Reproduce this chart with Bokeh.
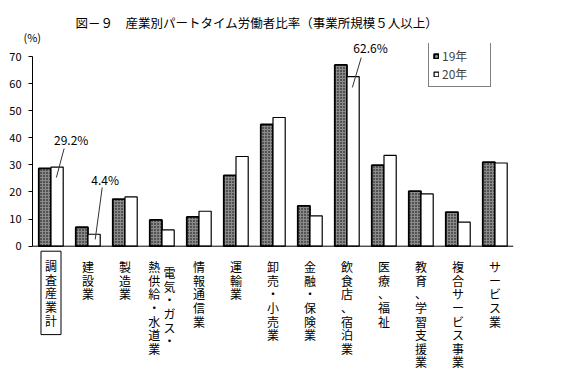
import numpy as np
from bokeh.plotting import figure
from bokeh.models import Range1d, Label, Legend, LegendItem, FixedTicker, Span, Title
from bokeh.embed import file_html
from bokeh.resources import INLINE

# ---------------- data ----------------
categories = ["調査産業計", "建設業", "製造業", "電気・ガス・熱供給・水道業", "情報通信業",
              "運輸業", "卸売・小売業", "金融・保険業", "飲食店、宿泊業", "医療、福祉",
              "教育、学習支援業", "複合サービス事業", "サービス業"]
values_19 = [28.7, 7.0, 17.4, 9.7, 10.8, 26.1, 44.9, 14.9, 66.9, 29.9, 20.3, 12.6, 31.0]
values_20 = [29.2, 4.4, 18.2, 6.0, 12.9, 33.1, 47.5, 11.2, 62.6, 33.5, 19.3, 8.9, 30.7]
series_labels = ["19年", "20年"]
y_ticks = [0, 10, 20, 30, 40, 50, 60, 70]
title_text = "図－９　産業別パートタイム労働者比率（事業所規模５人以上）"
unit_text = "(%)"
callout_idx = [0, 1, 8]          # categories whose 20年 value is annotated

FONT = "Noto Sans CJK JP"

W, H = 564, 382
LEFT, RIGHT, TOP = 32, 51, 43
Y_MIN, Y_MAX = -50.3, 74.8
px_per_unit = (H - TOP) / (Y_MAX - Y_MIN)

# ---------------- figure ----------------
p = figure(width=W, height=H, output_backend="svg", toolbar_location=None,
           x_range=Range1d(0, len(categories)), y_range=Range1d(Y_MIN, Y_MAX),
           x_axis_location=None,
           min_border_left=LEFT, min_border_right=RIGHT, min_border_top=TOP, min_border_bottom=0)
p.outline_line_color = None
p.grid.visible = False
p.background_fill_color = "white"
p.border_fill_color = "white"

# y axis (only 0-70)
p.yaxis.bounds = (0, 70)
p.yaxis.ticker = FixedTicker(ticks=y_ticks)
p.yaxis.minor_tick_line_color = None
p.yaxis.major_tick_in = 0
p.yaxis.major_tick_out = 4
p.yaxis.major_tick_line_color = "black"
p.yaxis.axis_line_color = "black"
p.yaxis.major_label_standoff = 7
p.yaxis.major_label_text_font = FONT
p.yaxis.major_label_text_font_size = "11px"
p.yaxis.major_label_text_color = "black"

# category baseline (x axis line at 0)
p.add_layout(Span(location=0, dimension="width", line_color="black", line_width=1))

# titles (closest to the frame added first)
p.add_layout(Title(text=unit_text, align="left", offset=-9, standoff=-2,
                   text_font=FONT, text_font_size="11px", text_font_style="normal",
                   text_color="black"), "above")
p.add_layout(Title(text=title_text, align="left", offset=43, standoff=-8,
                   text_font=FONT, text_font_size="12.5px", text_font_style="normal",
                   text_color="black"), "above")

# bars
xc = np.arange(len(categories)) + 0.5
bw = 0.33
r19 = p.vbar(x=xc - bw / 2, top=values_19, width=bw, bottom=0,
             fill_color="#8a8a8a", hatch_pattern="dot", hatch_scale=3, hatch_color="black",
             hatch_weight=1, line_color="black", line_width=1.8)
r20 = p.vbar(x=xc + bw / 2, top=values_20, width=bw, bottom=0,
             fill_color="white", line_color="black", line_width=1.2)

legend = Legend(items=[LegendItem(label=series_labels[0], renderers=[r19]),
                       LegendItem(label=series_labels[1], renderers=[r20])],
                location=(396, 295), orientation="vertical",
                border_line_color="black", border_line_width=1,
                background_fill_color="white", background_fill_alpha=1,
                padding=4, spacing=1, margin=0,
                glyph_width=6, glyph_height=6, label_height=12, label_width=44,
                label_standoff=3, label_text_font=FONT, label_text_font_size="12px")
p.add_layout(legend, "center")

# callouts (leader lines + labels) for selected 20年 values
# offsets: (line top dx, dy), (line bottom dx, dy), (label dx, dy)
callout_offsets = [((0.19, 6.85), (-0.02, -3.85), (0.38, 10.2)),
                   ((0.22, 17.3), (0.03, -1.9), (0.30, 20.2)),
                   ((0.22, 7.0), (-0.02, -4.0), (0.47, 10.7))]
x0s, y0s, x1s, y1s = [], [], [], []
for i, (top_o, bot_o, lab_o) in zip(callout_idx, callout_offsets):
    bx = xc[i] + bw / 2
    v = values_20[i]
    x0s.append(bx + top_o[0]); y0s.append(v + top_o[1])
    x1s.append(bx + bot_o[0]); y1s.append(v + bot_o[1])
    p.add_layout(Label(x=bx + lab_o[0], y=v + lab_o[1], x_units="data", y_units="data",
                       text=f"{v}%", text_font=FONT, text_font_size="12px",
                       text_align="center", text_baseline="middle", text_color="black"))
p.segment(x0=x0s, y0=y0s, x1=x1s, y1=y1s, line_color="#333333", line_width=1)

# vertical category labels below the baseline
def vtext(s):
    return "\n".join(list(s))

def below(px):
    return -px / px_per_unit

common = dict(x_units="data", y_units="data", text_font=FONT, text_font_size="12px",
              text_line_height=0.8, text_align="center", text_baseline="top",
              text_color="black")
for i, cat in enumerate(categories):
    if i == 0:
        p.add_layout(Label(x=xc[i], y=below(5), text=vtext(cat),
                           border_line_color="black", border_line_width=1,
                           padding=(4, 6), **common))
    elif "・熱" in cat:
        split = cat.index("熱")
        right_col, left_col = cat[:split], cat[split:]
        p.add_layout(Label(x=xc[i] + 0.2, y=below(18), text=vtext(right_col), **common))
        p.add_layout(Label(x=xc[i] - 0.21, y=below(12), text=vtext(left_col), **common))
    else:
        p.add_layout(Label(x=xc[i], y=below(12), text=vtext(cat), **common))

open("out.html", "w").write(file_html(p, INLINE))
